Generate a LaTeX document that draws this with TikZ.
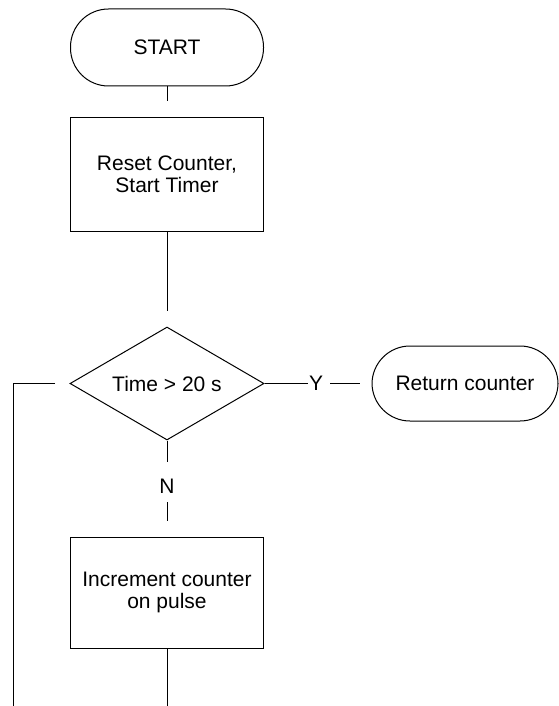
\documentclass[tikz,border=0pt]{standalone}
\usepackage{fontspec}
\setmainfont{Liberation Sans}
\usetikzlibrary{shapes.geometric}
\begin{document}
\begin{tikzpicture}[x=1pt,y=-1pt,line width=1pt,
  every node/.style={font=\fontsize{21}{22}\selectfont},
  term/.style={draw,rectangle,rounded corners=38pt,minimum width=193pt,minimum height=77pt,inner sep=0pt},
  proc/.style={draw,rectangle,minimum width=193pt,align=center,inner sep=0pt},
  dec/.style={draw,diamond,minimum width=194pt,minimum height=113pt,inner sep=0pt,aspect=1.717},
  lbl/.style={inner sep=0pt}]
\useasboundingbox (0,0) rectangle (558,706);
\node[term] (start) at (167,47.5) {START};
\node[proc,minimum height=113pt] (reset) at (167,174.5) {Reset Counter,\\Start Timer};
\node[dec] (time) at (167,383.5) {Time > 20 s};
\node[term,minimum width=186pt,minimum height=75pt] (ret) at (465,383.5) {Return counter};
\node[proc,minimum height=111pt] (inc) at (167,592.5) {Increment counter\\on pulse};
\node[lbl] (N) at (167,486) {N};
\node[lbl] (Y) at (316,383.5) {Y};
\coordinate (a1) at (167,101);
\coordinate (a2) at (167,311);
\coordinate (n1) at (167,462);
\coordinate (n2) at (167,502);
\coordinate (n3) at (167,521);
\coordinate (y1) at (308,383.5);
\coordinate (y2) at (330,383.5);
\coordinate (y3) at (360,383.5);
\coordinate (b1) at (167,706);
\coordinate (l1) at (55,383.5);
\coordinate (l2) at (13,383.5);
\coordinate (l3) at (13,706);
\draw (start) -- (a1);
\draw (reset) -- (a2);
\draw (time) -- (n1);
\draw (n2) -- (n3);
\draw (time) -- (y1);
\draw (y2) -- (y3);
\draw (inc) -- (b1);
\draw (l1) -- (l2) -- (l3);
\end{tikzpicture}
\end{document}
